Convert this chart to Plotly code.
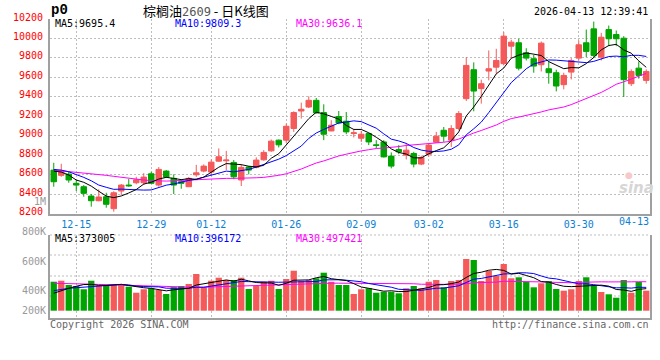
import numpy as np
import pandas as pd
import plotly.graph_objects as go

# ---------------- data ----------------
dates = ['12-10', '12-11', '12-12', '12-15', '12-16', '12-17', '12-18', '12-19', '12-22', '12-23',
         '12-24', '12-25', '12-26', '12-29', '12-30', '12-31', '01-05', '01-06', '01-07', '01-08',
         '01-09', '01-12', '01-13', '01-14', '01-15', '01-16', '01-19', '01-20', '01-21', '01-22',
         '01-23', '01-26', '01-27', '01-28', '01-29', '01-30', '02-02', '02-03', '02-04', '02-05',
         '02-06', '02-09', '02-10', '02-11', '02-12', '02-13', '02-24', '02-25', '02-26', '02-27',
         '03-02', '03-03', '03-04', '03-05', '03-06', '03-09', '03-10', '03-11', '03-12', '03-13',
         '03-16', '03-17', '03-18', '03-19', '03-20', '03-23', '03-24', '03-25', '03-26', '03-27',
         '03-30', '03-31', '04-01', '04-02', '04-03', '04-07', '04-08', '04-09', '04-10', '04-13']

open_ = [8646, 8592, 8605, 8510, 8475, 8379, 8331, 8372, 8249, 8431,
         8492, 8516, 8516, 8608, 8492, 8636, 8561, 8526, 8475, 8598,
         8636, 8626, 8738, 8742, 8725, 8544, 8677, 8674, 8752, 8844,
         8954, 8954, 9074, 9254, 9295, 9364, 9238, 9049, 9197, 9149,
         9022, 8974, 9022, 8906, 8936, 8790, 8858, 8800, 8817, 8708,
         8810, 8933, 9056, 8954, 9074, 9381, 9679, 9484, 9665, 9705,
         9741, 9921, 9956, 9853, 9792, 9730, 9689, 9648, 9525, 9654,
         9798, 9956, 10099, 9808, 10092, 10041, 10003, 9535, 9695, 9569]
high = [8721, 8711, 8629, 8544, 8492, 8400, 8448, 8413, 8428, 8503,
        8554, 8577, 8615, 8629, 8677, 8646, 8602, 8554, 8574, 8700,
        8705, 8756, 8869, 8844, 8749, 8705, 8687, 8777, 8851, 8961,
        8961, 9125, 9251, 9340, 9405, 9388, 9323, 9159, 9254, 9244,
        9070, 9049, 9026, 8954, 8954, 8828, 8903, 8926, 8834, 8793,
        8920, 9039, 9090, 9108, 9254, 9808, 9754, 9576, 9877, 9894,
        10065, 9987, 9997, 9900, 9833, 9969, 9764, 9679, 9648, 9798,
        9979, 10092, 10174, 10058, 10133, 10082, 10024, 9682, 9764, 9682]
low = [8475, 8577, 8516, 8431, 8372, 8270, 8325, 8259, 8218, 8390,
       8475, 8500, 8492, 8503, 8475, 8567, 8400, 8454, 8472, 8577,
       8623, 8595, 8731, 8646, 8551, 8482, 8602, 8664, 8742, 8834,
       8879, 8926, 9039, 9176, 9285, 9228, 8954, 9046, 9118, 9015,
       8982, 8936, 8903, 8869, 8776, 8664, 8810, 8756, 8674, 8697,
       8783, 8926, 8936, 8885, 9056, 9357, 9251, 9330, 9569, 9638,
       9723, 9798, 9672, 9774, 9648, 9661, 9535, 9456, 9477, 9579,
       9774, 9808, 9798, 9774, 9921, 9921, 9398, 9511, 9587, 9535]
close = [8526, 8633, 8544, 8492, 8407, 8331, 8369, 8294, 8413, 8492,
         8485, 8547, 8574, 8510, 8653, 8574, 8492, 8510, 8561, 8618,
         8687, 8728, 8783, 8749, 8577, 8674, 8646, 8749, 8828, 8944,
         8906, 9097, 9238, 9272, 9364, 9234, 9015, 9108, 9131, 9039,
         9029, 9015, 8936, 8900, 8782, 8687, 8834, 8851, 8708, 8776,
         8903, 8995, 8995, 9074, 9228, 9723, 9459, 9535, 9689, 9774,
         10024, 9962, 9695, 9798, 9716, 9952, 9648, 9511, 9620, 9774,
         9935, 9867, 9826, 10013, 9997, 9997, 9576, 9661, 9620, 9661]
# volume in thousands of lots
volume_k = [498, 515, 442, 424, 368, 515, 424, 442, 442, 442,
            412, 309, 368, 385, 356, 287, 402, 424, 459, 631,
            402, 515, 567, 527, 527, 567, 373, 424, 498, 515,
            373, 545, 687, 515, 527, 557, 653, 498, 442, 442,
            287, 368, 385, 309, 326, 326, 299, 385, 424, 385,
            498, 527, 402, 510, 527, 888, 871, 510, 682, 596,
            802, 557, 574, 498, 402, 471, 510, 373, 344, 368,
            510, 574, 424, 321, 282, 223, 527, 309, 493, 344]

# moving-average values before the window fills
ma5_head = [8636, 8626, 8595, 8544]
ma10_head = [8653, 8646, 8629, 8602, 8571, 8536, 8492, 8469, 8448]
ma30_head = [8646, 8639, 8631, 8623, 8615, 8608, 8600, 8592, 8582, 8571,
             8561, 8551, 8544, 8538, 8533, 8533, 8536, 8540, 8544, 8551,
             8554, 8557, 8561, 8561, 8561, 8561, 8564, 8567, 8571]
vma5_head = [300, 345, 385, 420]
vma10_head = [344, 367, 385, 395, 405, 415, 425, 433, 440]
vma30_head = [471, 470, 468, 466, 462, 456, 451, 447, 444, 440,
              436, 432, 428, 422, 416, 410, 405, 402, 401, 402,
              404, 408, 413, 418, 423, 428, 434, 440, 445]

tick_dates = ['12-15', '12-29', '01-12', '01-26', '02-09', '03-02', '03-16', '03-30']
last_date_label = '04-13'
price_ticks = [8200, 8400, 8600, 8800, 9000, 9200, 9400, 9600, 9800, 10000, 10200]
vol_labels = ['800K', '600K', '400K', '200K']

title_name = '棕榈油'
title_code = '2609'
title_rest = ' - 日K线图'
timestamp = '2026-04-13 12:39:41'
price_legend = ['MA5:9695.4', 'MA10:9809.3', 'MA30:9636.1']
vol_legend = ['MA5:373005', 'MA10:396172', 'MA30:497421']

# ---------------- derived ----------------
def moving_avg(vals, n, head):
    s = pd.Series(vals, dtype=float).rolling(n).mean().to_numpy()
    s[:len(head)] = head
    return s

ma5 = moving_avg(close, 5, ma5_head)
ma10 = moving_avg(close, 10, ma10_head)
ma30 = moving_avg(close, 30, ma30_head)
volume = np.array(volume_k) * 1000
vma5 = moving_avg(volume_k, 5, vma5_head) * 1000
vma10 = moving_avg(volume_k, 10, vma10_head) * 1000
vma30 = moving_avg(volume_k, 30, vma30_head) * 1000

RED = '#f45a5a'
GREEN = '#00a400'
BLUE = '#0000ff'
MAG = '#ff00ff'
GRID = '#bdbdbd'
AXIS = '#a0a0a0'
MONO = 'DejaVu Sans Mono'
CJK = 'Noto Sans CJK SC'

vol_colors = [RED if c >= o else GREEN for o, c in zip(open_, close)]

# ---------------- geometry (pixels) ----------------
W, H = 660, 360
L, R, T, B = 50, 650, 19, 318          # plot block
PH = B - T
main_bottom_px = 213.5
vol_top_px = 235
vol_base_px = 310.7
vol_px_per_lot = 0.0582 / 1000


def px_x(px):
    return (px - L) / (R - L)


def px_y(py):
    return (B - py) / PH


vol_range = [-(B - vol_base_px) / vol_px_per_lot, (vol_base_px - vol_top_px) / vol_px_per_lot]

fig = go.Figure()

fig.add_trace(go.Candlestick(
    x=dates, open=open_, high=high, low=low, close=close,
    increasing=dict(line=dict(color=RED, width=1), fillcolor=RED),
    decreasing=dict(line=dict(color=GREEN, width=1), fillcolor=GREEN),
    whiskerwidth=0, xaxis='x', yaxis='y', showlegend=False, hoverinfo='skip'))
for arr, col in [(ma30, MAG), (ma10, BLUE), (ma5, '#000000')]:
    fig.add_trace(go.Scatter(x=dates, y=arr, mode='lines', line=dict(color=col, width=1),
                             xaxis='x', yaxis='y', showlegend=False, hoverinfo='skip'))

fig.add_trace(go.Bar(x=dates, y=volume, marker=dict(color=vol_colors, line=dict(width=0)),
                     width=0.84, xaxis='x2', yaxis='y2', showlegend=False, hoverinfo='skip'))
for arr, col in [(vma30, MAG), (vma10, BLUE), (vma5, '#000000')]:
    fig.add_trace(go.Scatter(x=dates, y=arr, mode='lines', line=dict(color=col, width=1),
                             xaxis='x2', yaxis='y2', showlegend=False, hoverinfo='skip'))

xr = [-0.5, len(dates) - 0.5]
common_x = dict(type='category', range=xr, tickmode='array', tickvals=tick_dates, ticktext=tick_dates,
                showgrid=True, gridcolor=GRID, griddash='2px,2px', gridwidth=1,
                showline=True, linecolor=AXIS, linewidth=2, ticks='', zeroline=False,
                fixedrange=True, automargin=False)

annotations = []


def note(text, x, y, xanchor='left', color='#000000', size=10, family=MONO, **kw):
    annotations.append(dict(text=text, x=px_x(x), y=px_y(y), xref='paper', yref='paper',
                            xanchor=xanchor, yanchor='middle', showarrow=False,
                            font=dict(color=color, size=size, family=family), borderpad=0, **kw))


note('<b>p0</b>', 50, 10.5, size=14, family='Liberation Mono')
note(f"{title_name}<span style='font-family:{MONO};color:#555555;font-size:12px'>{title_code}</span>{title_rest}",
     206.5, 10.5, xanchor='center', size=13, family=CJK)
note(timestamp, 649, 11.5, xanchor='right')
for txt, xp, col in zip(price_legend, [54, 174, 295], ['#000000', BLUE, MAG]):
    note(txt, xp, 24, color=col)
note('1M', 46.5, 201, xanchor='right', color='#999999')
note(last_date_label, 650, 221, xanchor='right', color='#0b7fd4')
for txt, yp in zip(vol_labels, [231, 261, 290, 310.5]):
    note(txt, 46.5, yp, xanchor='right', color='#999999')
for txt, xp, col in zip(vol_legend, [54, 174, 295], ['#000000', BLUE, MAG]):
    note(txt, xp, 238.5, color=col)
note('Copyright 2026 SINA.COM', 49, 324.5, color='#666666')
note('http://finance.sina.com.cn', 650, 324.5, xanchor='right', color='#666666')
note('<b><i>sina</i></b>', 636, 188, xanchor='center', color='#d6d6d6', size=15, family='DejaVu Sans')
note('●', 629, 175, xanchor='center', color='#f6caca', size=9, family='DejaVu Sans')

shapes = []
for py in [vol_top_px, 255, 276, 296]:
    shapes.append(dict(type='line', xref='paper', yref='paper', x0=0, x1=1,
                       y0=px_y(py), y1=px_y(py), line=dict(color=GRID, width=1, dash='2px,2px'),
                       layer='below'))

fig.update_layout(
    width=W, height=H, margin=dict(l=L, r=W - R, t=T, b=H - B, pad=0, autoexpand=False),
    paper_bgcolor='white', plot_bgcolor='white', showlegend=False, hovermode=False,
    font=dict(family=MONO, size=10, color='#000000'),
    boxgap=0.27, boxgroupgap=0,
    xaxis=dict(anchor='y', showticklabels=True, tickfont=dict(color='#0b7fd4', size=10, family=MONO),
               rangeslider=dict(visible=False), **common_x),
    xaxis2=dict(anchor='y2', matches='x', showticklabels=False, **common_x),
    yaxis=dict(domain=[px_y(main_bottom_px), 1], range=[price_ticks[0] - 0.5, price_ticks[-1] + 0.5],
               tickmode='array', tickvals=price_ticks, ticktext=[str(v) for v in price_ticks],
               ticks='', tickfont=dict(color='#ff0000', size=10, family=MONO), ticklabelshift=-2,
               ticklabelstandoff=3, ticklabeloverflow='allow', automargin=False,
               showgrid=True, gridcolor=GRID, griddash='2px,2px', gridwidth=1,
               showline=True, mirror=True, linecolor=AXIS, linewidth=2, zeroline=False,
               fixedrange=True),
    yaxis2=dict(domain=[0, px_y(vol_top_px)], range=vol_range, showticklabels=False,
                showgrid=False, ticks='', showline=True, mirror=True, linecolor=AXIS,
                linewidth=2, zeroline=False, fixedrange=True, automargin=False),
    annotations=annotations, shapes=shapes,
)

fig.write_html('out.html', config=dict(displayModeBar=False, staticPlot=True),
               post_script="document.body.style.margin='0';")
